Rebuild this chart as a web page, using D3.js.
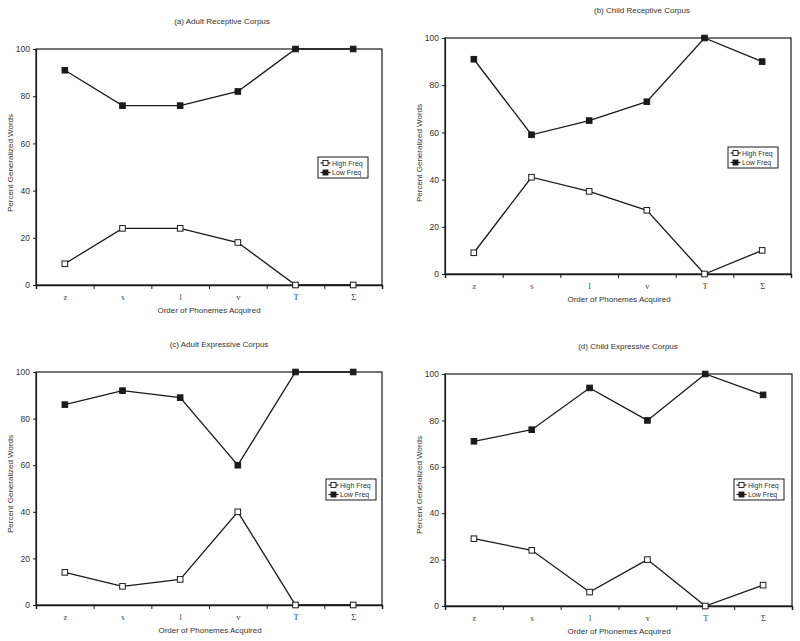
<!DOCTYPE html>
<html>
<head>
<meta charset="utf-8">
<script src="https://cdn.jsdelivr.net/npm/d3@7"></script>
<style>
  body { margin: 0; background: #fff; }
</style>
</head>
<body>
<script>
// Data
var categories = ["z", "s", "l", "v", "T", "Σ"];
var yTicks = [0, 20, 40, 60, 80, 100];
var seriesNames = ["High Freq", "Low Freq"];
var titles = [
  "(a) Adult Receptive Corpus",
  "(b) Child Receptive Corpus",
  "(c) Adult Expressive Corpus",
  "(d) Child Expressive Corpus"
];
var highA = [9, 24, 24, 18, 0, 0];
var lowA  = [91, 76, 76, 82, 100, 100];
var highB = [9, 41, 35, 27, 0, 10];
var lowB  = [91, 59, 65, 73, 100, 90];
var highC = [14, 8, 11, 40, 0, 0];
var lowC  = [86, 92, 89, 60, 100, 100];
var highD = [29, 24, 6, 20, 0, 9];
var lowD  = [71, 76, 94, 80, 100, 91];

// Panel layout
var panels = [
  { title: titles[0], high: highA, low: lowA,
    left: 36, right: 382, top: 49, bottom: 285, titleX: 222, titleY: 21,
    xTitleX: 209, yTitleY: 163, yTitleX: 10, legX: 318, legY: 157 },
  { title: titles[1], high: highB, low: lowB,
    left: 445, right: 791, top: 38, bottom: 274, titleX: 642, titleY: 10,
    xTitleX: 619, yTitleY: 153, yTitleX: 419, legX: 728, legY: 147 },
  { title: titles[2], high: highC, low: lowC,
    left: 36, right: 382, top: 372, bottom: 605, titleX: 219, titleY: 344,
    xTitleX: 210, yTitleY: 484, yTitleX: 10, legX: 326, legY: 479 },
  { title: titles[3], high: highD, low: lowD,
    left: 445, right: 792, top: 374, bottom: 606, titleX: 628, titleY: 346,
    xTitleX: 619, yTitleY: 485, yTitleX: 419, legX: 734, legY: 479 }
];

var svg = d3.select("body")
  .append("svg")
    .attr("width", 800)
    .attr("height", 641)
    .style("font-family", "'Liberation Sans', Arial, sans-serif");

var ink = "#1a1a1a";
var textInk = "#333333";

panels.forEach(function(p) {
  var g = svg.append("g");

  var xScale = d3.scalePoint().domain(categories).range([p.left, p.right]).padding(0.5);
  var xEdges = d3.scaleLinear().domain([0, categories.length]).range([p.left, p.right]);
  var yScale = d3.scaleLinear().domain([0, 100]).range([p.bottom, p.top]);

  // plot frame
  g.append("rect")
    .attr("x", p.left).attr("y", p.top)
    .attr("width", p.right - p.left).attr("height", p.bottom - p.top)
    .attr("fill", "none").attr("stroke", ink).attr("stroke-width", 1.2);

  // y axis
  var yAxis = d3.axisLeft(yScale).tickValues(yTicks).tickSize(3).tickPadding(3);
  var ya = g.append("g").attr("transform", "translate(" + p.left + ",0)").call(yAxis);
  ya.select(".domain").attr("stroke", ink).attr("stroke-width", 1.2);
  ya.selectAll(".tick line").attr("stroke", ink);
  ya.selectAll(".tick text").style("font-size", "8.5px").style("fill", textInk);

  // x axis: ticks at category boundaries, labels at centres
  var xAxis = d3.axisBottom(xEdges).tickValues(d3.range(categories.length + 1))
    .tickSize(4).tickFormat("");
  var xa = g.append("g").attr("transform", "translate(0," + p.bottom + ")").call(xAxis);
  xa.select(".domain").attr("stroke", ink).attr("stroke-width", 1.5);
  xa.selectAll(".tick line").attr("stroke", ink);

  var xLab = d3.axisBottom(xScale).tickSize(0).tickPadding(9);
  var xl = g.append("g").attr("transform", "translate(0," + p.bottom + ")").call(xLab);
  xl.select(".domain").remove();
  xl.selectAll(".tick text")
    .style("font-family", "'Liberation Serif', 'Times New Roman', serif")
    .style("font-size", "8.5px").style("fill", "#444444");

  // titles
  g.append("text").attr("x", p.titleX).attr("y", p.titleY)
    .attr("text-anchor", "middle").attr("dominant-baseline", "central")
    .style("font-size", "8px").style("fill", textInk).text(p.title);
  g.append("text").attr("x", p.xTitleX).attr("y", p.bottom + 25)
    .attr("text-anchor", "middle").attr("dominant-baseline", "central")
    .style("font-size", "8px").style("fill", textInk).text("Order of Phonemes Acquired");
  g.append("text")
    .attr("transform", "translate(" + p.yTitleX + "," + p.yTitleY + ") rotate(-90)")
    .attr("text-anchor", "middle").attr("dominant-baseline", "central")
    .style("font-size", "8px").style("fill", textInk).text("Percent Generalized Words");

  // lines
  var line = d3.line()
    .x(function(d, i) { return xScale(categories[i]); })
    .y(function(d) { return yScale(d); });

  var series = [
    { name: seriesNames[0], values: p.high, fill: "#fff" },
    { name: seriesNames[1], values: p.low, fill: ink }
  ];

  series.forEach(function(s) {
    g.append("path").datum(s.values)
      .attr("d", line).attr("fill", "none")
      .attr("stroke", ink).attr("stroke-width", 1.3);
    g.selectAll(null).data(s.values).enter().append("rect")
      .attr("x", function(d, i) { return xScale(categories[i]) - 2.8; })
      .attr("y", function(d) { return yScale(d) - 2.8; })
      .attr("width", 5.6).attr("height", 5.6)
      .attr("fill", s.fill).attr("stroke", ink).attr("stroke-width", 1);
  });

  // legend
  var lg = g.append("g").attr("transform", "translate(" + p.legX + "," + p.legY + ")");
  lg.append("rect").attr("width", 50).attr("height", 21)
    .attr("fill", "#fff").attr("stroke", ink).attr("stroke-width", 1);
  series.forEach(function(s, i) {
    var yy = 6 + i * 9.5;
    lg.append("line").attr("x1", 2.5).attr("x2", 12.5).attr("y1", yy).attr("y2", yy)
      .attr("stroke", ink).attr("stroke-width", 1.2);
    lg.append("rect").attr("x", 5).attr("y", yy - 2.5).attr("width", 5).attr("height", 5)
      .attr("fill", s.fill).attr("stroke", ink).attr("stroke-width", 0.9);
    lg.append("text").attr("x", 14).attr("y", yy)
      .attr("dominant-baseline", "central")
      .style("font-size", "7px").style("fill", textInk).text(s.name);
  });
});
</script>
</body>
</html>
